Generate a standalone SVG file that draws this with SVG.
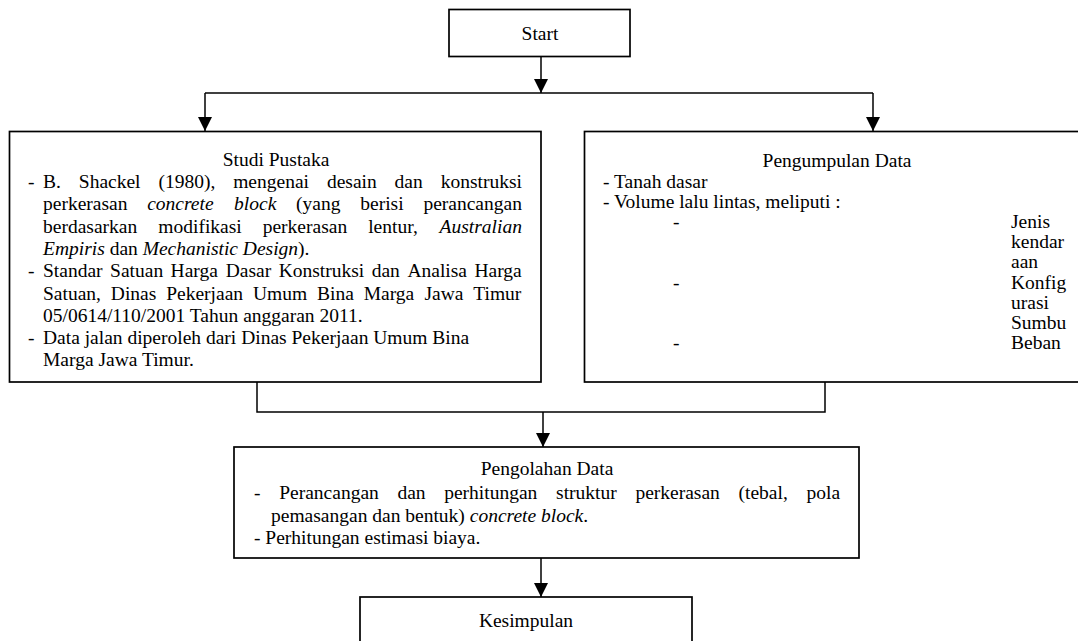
<svg xmlns="http://www.w3.org/2000/svg" width="1078" height="641" viewBox="0 0 1078 641">
<style>
text{font-family:"Liberation Serif","Times New Roman",serif;font-size:19.5px;fill:#000}
.c{text-anchor:middle}
.i{font-style:italic}
.box{fill:#fff;stroke:#000;stroke-width:1.7}
.ln{fill:none;stroke:#000;stroke-width:1.5}
</style>
<defs>
<marker id="ah" markerUnits="userSpaceOnUse" markerWidth="14" markerHeight="14" refX="14" refY="7" orient="auto">
<path d="M0,0 L14,7 L0,14 Z" fill="#000"/>
</marker>
</defs>
<rect width="1078" height="641" fill="#fff"/>

<g id="connectors">
<path class="ln" d="M541,57 V93" marker-end="url(#ah)"/>
<path class="ln" d="M205,93 H873"/>
<path class="ln" d="M205,93 V131" marker-end="url(#ah)"/>
<path class="ln" d="M873,93 V131" marker-end="url(#ah)"/>
<path class="ln" d="M257,382 V412 H825 V382"/>
<path class="ln" d="M543,412 V447" marker-end="url(#ah)"/>
<path class="ln" d="M541,558 V597" marker-end="url(#ah)"/>
</g>

<g id="start">
<rect class="box" x="449" y="9.5" width="181" height="47"/>
<text class="c" x="540" y="40">Start</text>
</g>

<g id="studi-pustaka">
<rect class="box" x="9.5" y="131.5" width="531.5" height="250.5"/>
<text class="c" x="276" y="166">Studi Pustaka</text>
<text y="188"><tspan x="28">-</tspan><tspan x="43">B.</tspan><tspan x="78.8">Shackel</tspan><tspan x="158.4">(1980),</tspan><tspan x="233.2">mengenai</tspan><tspan x="326.9">desain</tspan><tspan x="394.6">dan</tspan><tspan x="440.7">konstruksi</tspan></text>
<text y="210.3"><tspan x="43">perkerasan</tspan><tspan x="147.2" class="i">concrete</tspan><tspan x="234.1" class="i">block</tspan><tspan x="296.1">(yang</tspan><tspan x="360.3">berisi</tspan><tspan x="423.4">perancangan</tspan></text>
<text y="232.6"><tspan x="43">berdasarkan</tspan><tspan x="158.3">modifikasi</tspan><tspan x="262.7">perkerasan</tspan><tspan x="368.2">lentur,</tspan><tspan x="439.6" class="i">Australian</tspan></text>
<text x="43" y="254.9"><tspan class="i">Empiris</tspan> dan <tspan class="i">Mechanistic Design</tspan>).</text>
<text y="277.2"><tspan x="28">-</tspan><tspan x="43">Standar</tspan><tspan x="110.1">Satuan</tspan><tspan x="170.6">Harga</tspan><tspan x="225.7">Dasar</tspan><tspan x="278.7">Konstruksi</tspan><tspan x="371.7">dan</tspan><tspan x="407.4">Analisa</tspan><tspan x="474.4">Harga</tspan></text>
<text y="299.5"><tspan x="43">Satuan,</tspan><tspan x="110.8">Dinas</tspan><tspan x="166.2">Pekerjaan</tspan><tspan x="252.9">Umum</tspan><tspan x="317">Bina</tspan><tspan x="363.7">Marga</tspan><tspan x="424.4">Jawa</tspan><tspan x="473.3">Timur</tspan></text>
<text x="43" y="321.8">05/0614/110/2001 Tahun anggaran 2011.</text>
<text y="344.1"><tspan x="28">-</tspan><tspan x="43">Data jalan diperoleh dari Dinas Pekerjaan Umum Bina</tspan></text>
<text x="43" y="366.4">Marga Jawa Timur.</text>
</g>

<g id="pengumpulan-data">
<rect class="box" x="584.5" y="131.5" width="506" height="250.5"/>
<text class="c" x="837" y="167">Pengumpulan Data</text>
<text x="603" y="188">- Tanah dasar</text>
<text x="603" y="208">- Volume lalu lintas, meliputi :</text>
<text x="673" y="228">-</text>
<text x="1011" y="228">Jenis</text>
<text x="1011" y="248">kendar</text>
<text x="1011" y="268">aan</text>
<text x="673" y="288.5">-</text>
<text x="1011" y="288.5">Konfig</text>
<text x="1011" y="308.5">urasi</text>
<text x="1011" y="328.5">Sumbu</text>
<text x="673" y="348.5">-</text>
<text x="1011" y="348.5">Beban</text>
</g>

<g id="pengolahan-data">
<rect class="box" x="234" y="447" width="625" height="111"/>
<text class="c" x="547" y="475">Pengolahan Data</text>
<text y="499"><tspan x="254">-</tspan><tspan x="279.2">Perancangan</tspan><tspan x="397.4">dan</tspan><tspan x="444.2">perhitungan</tspan><tspan x="556.1">struktur</tspan><tspan x="635.4">perkerasan</tspan><tspan x="738.5">(tebal,</tspan><tspan x="806.5">pola</tspan></text>
<text x="271" y="521.5">pemasangan dan bentuk) <tspan class="i">concrete block</tspan>.</text>
<text x="254" y="544">- Perhitungan estimasi biaya.</text>
</g>

<g id="kesimpulan">
<rect class="box" x="360" y="597" width="332" height="80"/>
<text class="c" x="526" y="627">Kesimpulan</text>
</g>
</svg>
